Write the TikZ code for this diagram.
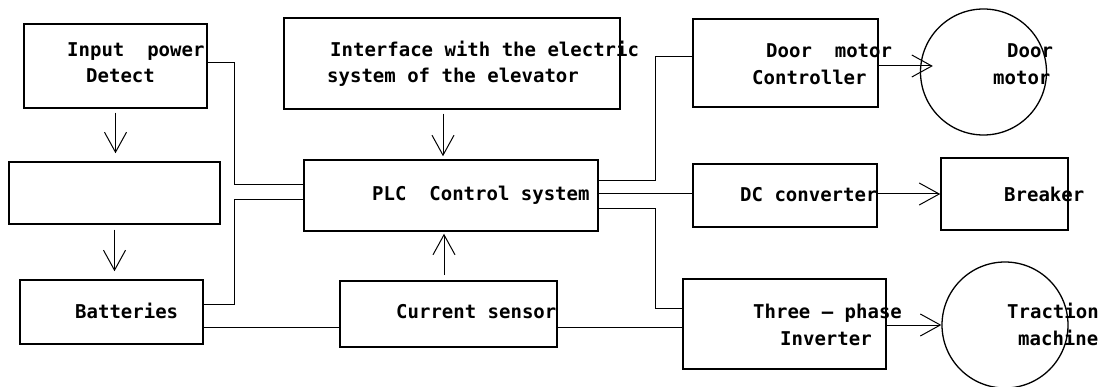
\documentclass[tikz,border=0pt]{standalone}
\usepackage{fontspec}
\setmonofont{DejaVu Sans Mono}
\usetikzlibrary{arrows.meta}

\begin{document}
\begin{tikzpicture}[x=1pt,y=-1pt,
  blk/.style={draw,line width=1.5pt,inner sep=0pt},
  motor/.style={draw,circle,line width=1.3pt,inner sep=0pt,minimum size=126pt},
  txt/.style={anchor=base west,inner sep=0pt,font=\ttfamily\bfseries\fontsize{19}{22}\selectfont},
  wire/.style={line width=1pt},
  arr/.style={wire,-{Straight Barb[length=20pt,width=22pt]}}]
\useasboundingbox (0,0) rectangle (1100,387);

% blocks
\node[blk,minimum width=183pt,minimum height=84pt] (inp) at (115.5,66) {};
\node[blk,minimum width=211pt,minimum height=62pt] (emp) at (114.5,193) {};
\node[blk,minimum width=183pt,minimum height=64pt] (bat) at (111.5,312) {};
\node[blk,minimum width=336pt,minimum height=91pt] (ifc) at (452,63.5) {};
\node[blk,minimum width=294pt,minimum height=71pt] (plc) at (451,195.5) {};
\node[blk,minimum width=217pt,minimum height=66pt] (cur) at (448.5,314) {};
\node[blk,minimum width=185pt,minimum height=88pt] (dmc) at (785.5,63) {};
\node[blk,minimum width=184pt,minimum height=63pt] (dcc) at (785,195.5) {};
\node[blk,minimum width=127pt,minimum height=72pt] (brk) at (1004.5,194) {};
\node[blk,minimum width=203pt,minimum height=90pt] (inv) at (784.5,324) {};
\node[motor] (dmo) at (983.5,72) {};
\node[motor] (trm) at (1005,325) {};

% texts
\node[txt] (inp-a) at (67,57) {Input\ \ power};
\node[txt] (inp-b) at (86,83) {Detect};
\node[txt] (ifc-a) at (330,57) {Interface with the electric};
\node[txt] (ifc-b) at (327,83) {system of the elevator};
\node[txt] (plc-a) at (372,201) {PLC\ \ Control system};
\node[txt] (cur-a) at (396,318) {Current sensor};
\node[txt] (bat-a) at (75,318) {Batteries};
\node[txt] (dmc-a) at (766,58) {Door\ \ motor};
\node[txt] (dmc-b) at (752,85) {Controller};
\node[txt] (dmo-a) at (1007,58) {Door};
\node[txt] (dmo-b) at (993,85) {motor};
\node[txt] (dcc-a) at (740,202) {DC converter};
\node[txt] (brk-a) at (1004,202) {Breaker};
\node[txt] (inv-a) at (753,318) {Three – phase};
\node[txt] (inv-b) at (780,345) {Inverter};
\node[txt] (trm-a) at (1007,318) {Traction};
\node[txt] (trm-b) at (1018,345) {machine};

% bend points
\coordinate (a1) at (234,185);
\coordinate (a2) at (234,200);
\coordinate (lo) at (0,327);
\coordinate (r1) at (655,181);
\coordinate (r2) at (655,57);
\coordinate (r3) at (0,194);
\coordinate (r4) at (655,209);
\coordinate (r5) at (655,308);
\coordinate (r6) at (0,66);

% wires
\draw[wire] ([yshift=3pt]inp.east) -| (a1) -- (a1 -| plc.west);
\draw[wire] ([yshift=8pt]bat.east) -| (a2) -- (a2 -| plc.west);
\draw[wire] (bat.east |- lo) -- (cur.west |- lo);
\draw[wire] (cur.east |- lo) -- (inv.west |- lo);
\draw[wire] (plc.east |- r1) -- (r1) -- (r2) -- (r2 -| dmc.west);
\draw[wire] (plc.east |- r3) -- (dcc.west |- r3);
\draw[wire] (plc.east |- r4) -- (r4) -- (r5) -- (r5 -| inv.west);

% arrows
\draw[arr,shorten <=4pt,shorten >=8pt] (inp.south) -- (inp.south |- emp.north);
\draw[arr,shorten <=5pt,shorten >=8pt] (emp.south) -- (emp.south |- bat.north);
\draw[arr,shorten <=4pt,shorten >=3pt] ([xshift=-9pt]ifc.south) -- ([xshift=-9pt]ifc.south |- plc.north);
\draw[arr,shorten <=5pt,shorten >=2pt] ([xshift=-4.5pt]cur.north) -- ([xshift=-4.5pt]cur.north |- plc.south);
\draw[arr,shorten >=-13pt] (dmc.east |- r6) -- (dmo.west |- r6);
\draw[arr] (dcc.east |- brk.west) -- (brk.west);
\draw[arr] (inv.east |- trm.west) -- (trm.west);
\end{tikzpicture}
\end{document}
